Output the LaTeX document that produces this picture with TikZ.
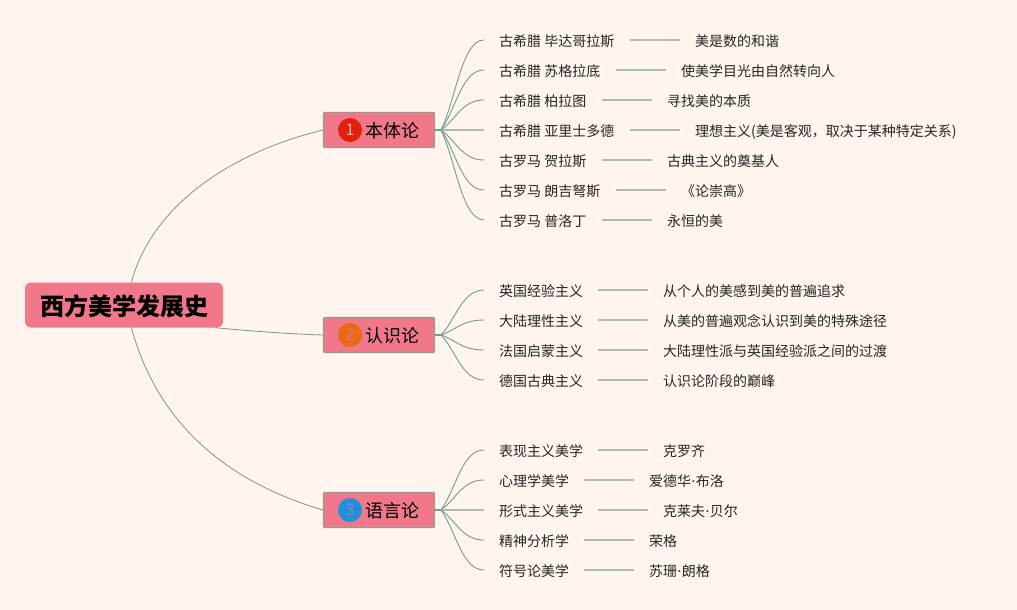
\documentclass[tikz,border=0pt]{standalone}
\usepackage{fontspec}
\usetikzlibrary{calc}
\setmainfont{Noto Sans CJK SC}
\newfontfamily\dotfont{Noto Sans}
\definecolor{bgc}{HTML}{FFF4EE}
\definecolor{boxc}{HTML}{F0788A}
\definecolor{edgec}{HTML}{949A92}
\definecolor{fanc}{HTML}{6E9F8B}
\definecolor{barc}{HTML}{A9BFAE}
\definecolor{redc}{HTML}{E0210C}
\definecolor{orangec}{HTML}{E86A17}
\definecolor{bluec}{HTML}{1E90DC}
\tikzset{
  rootbox/.style={draw=none,fill=boxc,rounded corners=6pt,minimum width=198pt,minimum height=45pt,inner sep=0pt,text height=21.4pt,text depth=0.4pt,font=\fontsize{24}{24}\selectfont\bfseries},
  topicbox/.style={draw=edgec,line width=1.2pt,rounded corners=1pt,fill=boxc,minimum width=111pt,minimum height=35pt,inner sep=0pt,text height=16pt,text depth=0.4pt,font=\fontsize{18}{18}\selectfont},
  badge/.style={circle,minimum size=24pt,inner sep=0pt,font=\fontsize{16}{16}\selectfont},
  leaf/.style={anchor=west,inner xsep=15pt,inner ysep=1pt,text height=13pt,text depth=0.4pt,font=\fontsize{14}{14}\selectfont,text=black!85},
  branch/.style={draw=fanc,line width=0.8pt},
  stub/.style={draw=fanc,line width=1.8pt},
  fan/.style={draw=fanc,line width=0.9pt,to path={.. controls ($(\tikztostart)!0.35!(\tikztotarget)$) and ($(\tikztotarget)+(-22,0)$) .. (\tikztotarget)}},
  bar/.style={draw=barc,line width=1.7pt}
}
\begin{document}
\begin{tikzpicture}[x=1pt,y=-1pt]
\fill[bgc] (0,0) rectangle (1017,610);
\node[rootbox] (r) at (124,305) {西方美学发展史};
\node[topicbox] (t1) at (379,130) {\hspace*{26pt}本体论};
\node[topicbox] (t2) at (379,335) {\hspace*{26pt}认识论};
\node[topicbox] (t3) at (379,510) {\hspace*{26pt}语言论};
\node[badge,fill=redc,text=boxc!60!white] (b1) at (350,130) {1};
\node[badge,fill=orangec,text=boxc!70!orangec] (b2) at (350,335) {2};
\node[badge,fill=bluec,text=boxc!60!bluec] (b3) at (350,510) {3};
\path[branch] (r.72) .. controls (152,205) and (232,152) .. (t1.west);
\path[branch] (r.-14) .. controls (250,331) and (290,334) .. (t2.west);
\path[branch] (r.-72) .. controls (158,425) and (228,482) .. (t3.west);
\coordinate (f1) at (441,130);
\coordinate (f2) at (441,335);
\coordinate (f3) at (441,510);
\path[stub] (t1.east) -- (f1);
\path[stub] (t2.east) -- (f2);
\path[stub] (t3.east) -- (f3);
% first group
\node[leaf] (l11) at (484,40) {古希腊 毕达哥拉斯};
\node[leaf] (l12) at (484,70) {古希腊 苏格拉底};
\node[leaf] (l13) at (484,100) {古希腊 柏拉图};
\node[leaf] (l14) at (484,130) {古希腊 亚里士多德};
\node[leaf] (l15) at (484,160) {古罗马 贺拉斯};
\node[leaf] (l16) at (484,190) {古罗马 朗吉弩斯};
\node[leaf] (l17) at (484,220) {古罗马 普洛丁};
\node[leaf] (a11) at (680,40) {美是数的和谐};
\node[leaf] (a12) at (666,70) {使美学目光由自然转向人};
\node[leaf] (a13) at (652,100) {寻找美的本质};
\node[leaf] (a14) at (680,130) {理想主义(美是客观，取决于某种特定关系)};
\node[leaf] (a15) at (652,160) {古典主义的奠基人};
\node[leaf] (a16) at (666,190) {《论崇高》};
\node[leaf] (a17) at (652,220) {永恒的美};
\path[fan] (f1) to (l11.west);
\path[fan] (f1) to (l12.west);
\path[fan] (f1) to (l13.west);
\path[bar] (f1) -- (l14.west);
\path[fan] (f1) to (l15.west);
\path[fan] (f1) to (l16.west);
\path[fan] (f1) to (l17.west);
\path[bar] (l11) -- (a11);
\path[bar] (l12) -- (a12);
\path[bar] (l13) -- (a13);
\path[bar] (l14) -- (a14);
\path[bar] (l15) -- (a15);
\path[bar] (l16) -- (a16);
\path[bar] (l17) -- (a17);
% second group
\node[leaf] (l21) at (484,290) {英国经验主义};
\node[leaf] (l22) at (484,320) {大陆理性主义};
\node[leaf] (l23) at (484,350) {法国启蒙主义};
\node[leaf] (l24) at (484,380) {德国古典主义};
\node[leaf] (a21) at (648,290) {从个人的美感到美的普遍追求};
\node[leaf] (a22) at (648,320) {从美的普遍观念认识到美的特殊途径};
\node[leaf] (a23) at (648,350) {大陆理性派与英国经验派之间的过渡};
\node[leaf] (a24) at (648,380) {认识论阶段的巅峰};
\path[fan] (f2) to (l21.west);
\path[fan] (f2) to (l22.west);
\path[fan] (f2) to (l23.west);
\path[fan] (f2) to (l24.west);
\path[bar] (l21) -- (a21);
\path[bar] (l22) -- (a22);
\path[bar] (l23) -- (a23);
\path[bar] (l24) -- (a24);
% third group
\node[leaf] (l31) at (484,450) {表现主义美学};
\node[leaf] (l32) at (484,480) {心理学美学};
\node[leaf] (l33) at (484,510) {形式主义美学};
\node[leaf] (l34) at (484,540) {精神分析学};
\node[leaf] (l35) at (484,570) {符号论美学};
\node[leaf] (a31) at (648,450) {克罗齐};
\node[leaf] (a32) at (634,480) {爱德华{\dotfont\kern0.5pt·\kern0.5pt}布洛};
\node[leaf] (a33) at (648,510) {克莱夫{\dotfont\kern0.5pt·\kern0.5pt}贝尔};
\node[leaf] (a34) at (634,540) {荣格};
\node[leaf] (a35) at (634,570) {苏珊{\dotfont\kern0.5pt·\kern0.5pt}朗格};
\path[fan] (f3) to (l31.west);
\path[fan] (f3) to (l32.west);
\path[bar] (f3) -- (l33.west);
\path[fan] (f3) to (l34.west);
\path[fan] (f3) to (l35.west);
\path[bar] (l31) -- (a31);
\path[bar] (l32) -- (a32);
\path[bar] (l33) -- (a33);
\path[bar] (l34) -- (a34);
\path[bar] (l35) -- (a35);
\end{tikzpicture}
\end{document}
